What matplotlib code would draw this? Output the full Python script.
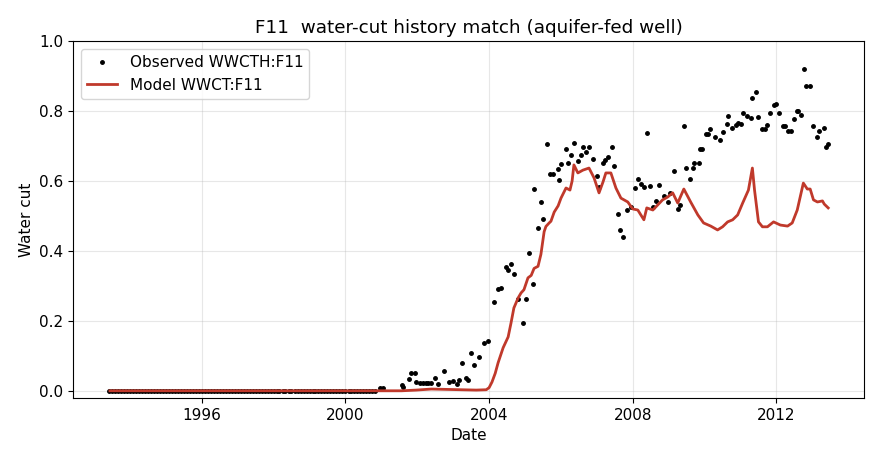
import matplotlib
matplotlib.use("Agg")
import matplotlib.pyplot as plt
import matplotlib.dates as mdates
import numpy as np
import pandas as pd

# observed water cut: zero until end of 2000 (monthly samples), then scattered
obs_zero_start = '1993-06-01'
obs_zero_end = '2000-11-01'
obs_years = [2000.97, 2001.03, 2001.56, 2001.61, 2001.78, 2001.83, 2001.94, 2001.97,
             2002.08, 2002.17, 2002.25, 2002.31, 2002.39, 2002.50, 2002.58, 2002.75,
             2002.89, 2003.00, 2003.11, 2003.17, 2003.25, 2003.36, 2003.42, 2003.50,
             2003.58, 2003.72, 2003.86, 2003.97, 2004.14, 2004.25, 2004.33, 2004.47,
             2004.53, 2004.61, 2004.69, 2004.81, 2004.94, 2005.03, 2005.11, 2005.22,
             2005.25, 2005.36, 2005.44, 2005.50, 2005.61, 2005.69, 2005.78, 2005.92,
             2005.94, 2006.00, 2006.14, 2006.19, 2006.28, 2006.36, 2006.47, 2006.56,
             2006.61, 2006.69, 2006.78, 2006.89, 2007.00, 2007.06, 2007.17, 2007.22,
             2007.31, 2007.42, 2007.47, 2007.58, 2007.64, 2007.72, 2007.83, 2007.94,
             2008.06, 2008.14, 2008.22, 2008.31, 2008.39, 2008.47, 2008.56, 2008.64,
             2008.72, 2008.86, 2008.97, 2009.03, 2009.14, 2009.25, 2009.31, 2009.42,
             2009.47, 2009.58, 2009.67, 2009.69, 2009.83, 2009.86, 2009.92, 2010.03,
             2010.08, 2010.14, 2010.28, 2010.42, 2010.50, 2010.61, 2010.64, 2010.75,
             2010.86, 2010.94, 2011.00, 2011.08, 2011.19, 2011.28, 2011.33, 2011.42,
             2011.50, 2011.61, 2011.67, 2011.75, 2011.83, 2011.92, 2012.00, 2012.08,
             2012.19, 2012.25, 2012.31, 2012.42, 2012.50, 2012.56, 2012.61, 2012.69,
             2012.78, 2012.83, 2012.94, 2013.03, 2013.14, 2013.19, 2013.31, 2013.39,
             2013.44]
obs_wct = [0.009, 0.009, 0.017, 0.011, 0.034, 0.051, 0.051, 0.026,
           0.023, 0.023, 0.023, 0.023, 0.023, 0.037, 0.020, 0.057,
           0.026, 0.029, 0.020, 0.031, 0.080, 0.037, 0.031, 0.109,
           0.074, 0.097, 0.137, 0.143, 0.254, 0.291, 0.294, 0.354,
           0.346, 0.363, 0.334, 0.263, 0.194, 0.263, 0.394, 0.306,
           0.577, 0.466, 0.540, 0.491, 0.706, 0.620, 0.620, 0.634,
           0.603, 0.649, 0.691, 0.651, 0.674, 0.709, 0.657, 0.674,
           0.697, 0.683, 0.697, 0.663, 0.614, 0.583, 0.651, 0.660,
           0.669, 0.697, 0.643, 0.506, 0.460, 0.440, 0.517, 0.526,
           0.580, 0.606, 0.591, 0.583, 0.737, 0.586, 0.526, 0.543,
           0.589, 0.557, 0.540, 0.566, 0.629, 0.520, 0.531, 0.757,
           0.637, 0.606, 0.637, 0.651, 0.651, 0.691, 0.691, 0.734,
           0.734, 0.749, 0.726, 0.717, 0.740, 0.763, 0.786, 0.751,
           0.760, 0.766, 0.763, 0.794, 0.786, 0.780, 0.837, 0.854,
           0.783, 0.749, 0.749, 0.760, 0.794, 0.817, 0.820, 0.794,
           0.757, 0.757, 0.743, 0.743, 0.777, 0.800, 0.800, 0.789,
           0.920, 0.871, 0.871, 0.757, 0.726, 0.743, 0.751, 0.697,
           0.706]

# simulated water cut
model_years = [1993.44, 2000.72, 2001.56, 2001.97, 2002.39, 2002.81, 2003.22, 2003.64,
               2003.92, 2004.00, 2004.08, 2004.17, 2004.25, 2004.39, 2004.53, 2004.61,
               2004.69, 2004.81, 2004.89, 2004.97, 2005.08, 2005.17, 2005.25, 2005.36,
               2005.44, 2005.53, 2005.58, 2005.67, 2005.72, 2005.81, 2005.92, 2006.00,
               2006.14, 2006.25, 2006.31, 2006.36, 2006.47, 2006.61, 2006.78, 2006.92,
               2007.06, 2007.17, 2007.25, 2007.39, 2007.53, 2007.67, 2007.86, 2008.00,
               2008.14, 2008.31, 2008.39, 2008.56, 2008.69, 2008.83, 2008.97, 2009.11,
               2009.25, 2009.42, 2009.61, 2009.81, 2009.97, 2010.17, 2010.36, 2010.50,
               2010.64, 2010.78, 2010.92, 2011.06, 2011.22, 2011.33, 2011.39, 2011.50,
               2011.61, 2011.75, 2011.92, 2012.11, 2012.31, 2012.44, 2012.58, 2012.75,
               2012.86, 2012.94, 2013.03, 2013.14, 2013.28, 2013.33, 2013.44]
model_wct = [0.0, 0.0, 0.0, 0.002, 0.005, 0.004, 0.003, 0.002,
             0.003, 0.009, 0.025, 0.050, 0.080, 0.123, 0.154, 0.194,
             0.237, 0.266, 0.280, 0.289, 0.323, 0.330, 0.350, 0.356,
             0.390, 0.455, 0.470, 0.480, 0.485, 0.511, 0.529, 0.551,
             0.580, 0.574, 0.600, 0.646, 0.623, 0.631, 0.637, 0.609,
             0.566, 0.597, 0.623, 0.623, 0.580, 0.551, 0.540, 0.520,
             0.517, 0.489, 0.523, 0.517, 0.531, 0.546, 0.554, 0.566,
             0.537, 0.577, 0.540, 0.503, 0.480, 0.471, 0.460, 0.469,
             0.483, 0.489, 0.503, 0.537, 0.574, 0.637, 0.574, 0.483,
             0.469, 0.469, 0.483, 0.474, 0.471, 0.480, 0.517, 0.594,
             0.577, 0.577, 0.546, 0.540, 0.543, 0.534, 0.523]


def to_dates(years):
    out = []
    for y in years:
        yi = int(np.floor(y))
        out.append(pd.Timestamp(year=yi, month=1, day=1) + pd.Timedelta(days=(y - yi) * 365.25))
    return out


plt.rcParams['font.size'] = 11

zero_dates = list(pd.date_range(obs_zero_start, obs_zero_end, freq='MS'))
obs_dates = zero_dates + to_dates(obs_years)
obs_vals = [0.0] * len(zero_dates) + obs_wct
model_dates = to_dates(model_years)

fig, ax = plt.subplots(figsize=(8.8, 4.62), dpi=100)
fig.subplots_adjust(left=0.083, right=0.982, bottom=0.139, top=0.911)

ax.plot(obs_dates, obs_vals, '.', color='black', markersize=5, label='Observed WWCTH:F11')
ax.plot(model_dates, model_wct, '-', color='#c0392b', linewidth=2, label='Model WWCT:F11')

ax.set_ylim(-0.02, 1.0)
ax.xaxis.set_major_locator(mdates.YearLocator(4))
ax.xaxis.set_major_formatter(mdates.DateFormatter('%Y'))
ax.grid(True, alpha=0.3)
ax.set_xlabel('Date')
ax.set_ylabel('Water cut')
ax.set_title('F11  water-cut history match (aquifer-fed well)')
ax.legend(loc='upper left')

fig.savefig('out.png', dpi=100)
